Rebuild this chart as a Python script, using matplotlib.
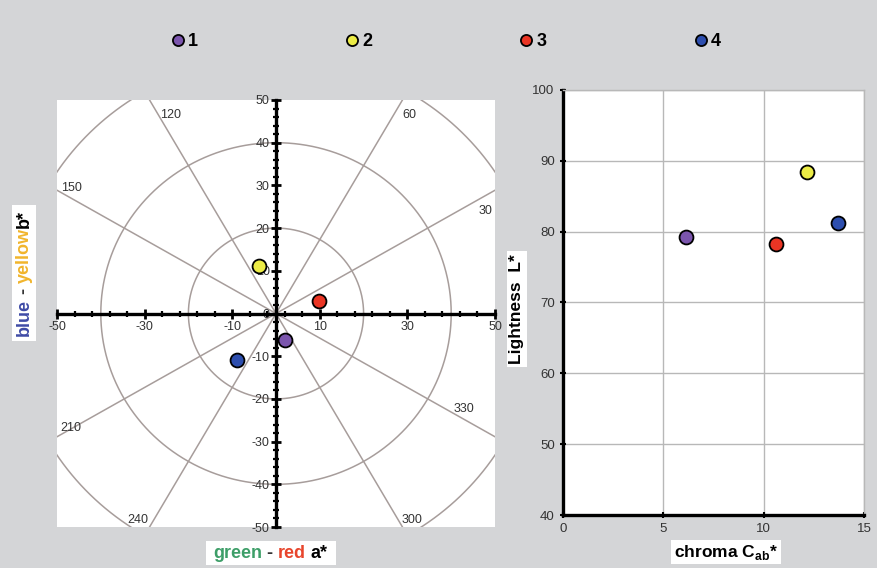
import numpy as np
import matplotlib
matplotlib.use("Agg")
import matplotlib.pyplot as plt
from matplotlib.transforms import IdentityTransform
from matplotlib.patches import Rectangle

plt.rcParams["font.family"] = ["Liberation Sans", "DejaVu Sans"]
plt.rcParams["mathtext.fontset"] = "custom"
plt.rcParams["mathtext.rm"] = "Liberation Sans:bold"
plt.rcParams["mathtext.bf"] = "Liberation Sans:bold"
plt.rcParams["axes.unicode_minus"] = False

# ---- data -------------------------------------------------------------
samples = ["1", "2", "3", "4"]
colors = ["#7b55ad", "#ecec46", "#ea3524", "#2d4eae"]
a_star = [2.1, -3.9, 9.8, -8.9]        # green - red
b_star = [-6.1, 11.2, 3.0, -10.8]      # blue - yellow
chroma = [6.15, 12.15, 10.6, 13.7]     # C*ab
lightness = [79.2, 88.4, 78.2, 81.2]   # L*

hue_angles = [30, 60, 120, 150, 210, 240, 300, 330]
hue_label_pos = {30: (47.9, 24.0), 60: (30.5, 46.5), 120: (-24.0, 46.5),
                 150: (-46.8, 29.5), 210: (-46.8, -26.7), 240: (-31.5, -48.3),
                 300: (31.0, -48.3), 330: (43.0, -22.3)}
ring_radii = [20, 40, 60]

BG = "#d4d5d7"
GRID = "#a79d9b"
TICKC = "#333333"

fig = plt.figure(figsize=(8.78, 5.68), dpi=100, facecolor=BG)

# ---- a*b* plane ---------------------------------------------------------
ax1 = fig.add_axes([57 / 878, 1 - 527 / 568, 438 / 878, 427 / 568])
ax1.set_facecolor("white")
ax1.set_xlim(-50, 50)
ax1.set_ylim(-50, 50)

th = np.linspace(0, 2 * np.pi, 721)
for r in ring_radii:
    ax1.plot(r * np.cos(th), r * np.sin(th), color=GRID, lw=1.1, zorder=1)
for h in hue_angles:
    t = np.deg2rad(h)
    ax1.plot([0, 80 * np.cos(t)], [0, 80 * np.sin(t)], color=GRID, lw=1.1, zorder=1)
    lx, ly = hue_label_pos[h]
    ax1.text(lx, ly, str(h), fontsize=9, color=TICKC, ha="center", va="center", zorder=2)

for sp in ["top", "right"]:
    ax1.spines[sp].set_visible(False)
for sp in ["left", "bottom"]:
    ax1.spines[sp].set_position("zero")
    ax1.spines[sp].set_linewidth(2.4)
    ax1.spines[sp].set_zorder(3)

ax1.set_xticks([-50, -30, -10, 10, 30, 50])
ax1.set_xticks(np.arange(-50, 51, 4), minor=True)
ax1.set_yticks(np.arange(-50, 51, 10))
ax1.set_yticks(np.arange(-50, 51, 2), minor=True)
ax1.tick_params(which="major", direction="inout", length=7, width=2, labelsize=9,
                labelcolor=TICKC, pad=1)
ax1.tick_params(which="minor", direction="inout", length=4, width=1.6)
ax1.tick_params(axis="x", pad=2)

for i in range(len(samples)):
    ax1.plot(a_star[i], b_star[i], "o", ms=10, mfc=colors[i], mec="black", mew=1.3,
             label=samples[i], zorder=5, clip_on=False)

# ---- L* vs C* -----------------------------------------------------------
ax2 = fig.add_axes([563 / 878, 1 - 515 / 568, 301 / 878, 425 / 568])
ax2.set_facecolor("white")
ax2.set_xlim(0, 15)
ax2.set_ylim(40, 100)
ax2.set_xticks([0, 5, 10, 15])
ax2.set_yticks(np.arange(40, 101, 10))
ax2.grid(True, color="#b8b8b8", lw=1)
ax2.set_axisbelow(True)
for sp in ["left", "bottom"]:
    ax2.spines[sp].set_linewidth(2.4)
    ax2.spines[sp].set_color("black")
for sp in ["top", "right"]:
    ax2.spines[sp].set_linewidth(1)
    ax2.spines[sp].set_color("#b8b8b8")
ax2.tick_params(direction="inout", length=4, width=1.5, labelsize=9.5, labelcolor=TICKC, pad=4)
for i in range(len(samples)):
    ax2.plot(chroma[i], lightness[i], "o", ms=10, mfc=colors[i], mec="black", mew=1.3,
             zorder=5, clip_on=False)

# ---- legend ------------------------------------------------------------
handles, labels = ax1.get_legend_handles_labels()
fig.legend(handles, labels, loc="center", bbox_to_anchor=(0.508, 1 - 42 / 568), ncol=4,
           frameon=False, numpoints=1, markerscale=0.8, handlelength=0.7,
           handletextpad=0.2, columnspacing=8.2,
           prop={"family": "Liberation Sans", "weight": "bold", "size": 13})

# ---- axis titles -------------------------------------------------------
fig.canvas.draw()
renderer = fig.canvas.get_renderer()


def multicolor_label(cx, cy, parts, size, vertical=False):
    """Place coloured text pieces side by side, centred on (cx, cy) in pixels."""
    gap = 0.26 * size * 100 / 72
    items = []
    for s, c in parts:
        t = fig.text(0, 0, s, color=c, fontsize=size, fontweight="bold",
                     rotation=90 if vertical else 0, rotation_mode="anchor",
                     ha="left", va="center", transform=IdentityTransform(), zorder=5)
        ext = t.get_window_extent(renderer)
        items.append((t, ext.height if vertical else ext.width, s))
    total = 0
    for k, (t, ln, s) in enumerate(items):
        total += ln
        if k < len(items) - 1 and items[k + 1][2] != "b*":
            total += gap
    pos = (cy if vertical else cx) - total / 2
    start = pos
    for k, (t, ln, s) in enumerate(items):
        t.set_position((cx, pos) if vertical else (pos, cy))
        pos += ln
        if k < len(items) - 1 and items[k + 1][2] != "b*":
            pos += gap
    thick = size * 100 / 72 * 1.3
    if vertical:
        rect = Rectangle((cx - thick / 2, start - 5), thick, total + 10,
                         transform=IdentityTransform(), facecolor="white",
                         edgecolor="none", zorder=4)
    else:
        rect = Rectangle((start - 7, cy - thick / 2), total + 16, thick,
                         transform=IdentityTransform(), facecolor="white",
                         edgecolor="none", zorder=4)
    fig.patches.append(rect)


multicolor_label(24, 568 - 273, [("blue", "#3f4ba6"), ("-", "#333333"),
                                 ("yellow", "#f1b52c"), ("b*", "black")], 13, vertical=True)
multicolor_label(270, 568 - 553, [("green", "#3d9e68"), ("-", "#333333"),
                                  ("red", "#e8452c"), ("a*", "black")], 13)

fig.text(517 / 878, 1 - 309 / 568, "Lightness  L*", rotation=90, ha="center", va="center",
         fontsize=12.5, fontweight="bold", color="black",
         bbox=dict(facecolor="white", edgecolor="none", pad=2))
fig.text(726 / 878, 1 - 552 / 568, r"chroma C$_{\mathrm{ab}}$*", ha="center", va="center",
         fontsize=12.5, fontweight="bold", color="black",
         bbox=dict(facecolor="white", edgecolor="none", pad=2))

fig.savefig("out.png", dpi=100, facecolor=BG)
